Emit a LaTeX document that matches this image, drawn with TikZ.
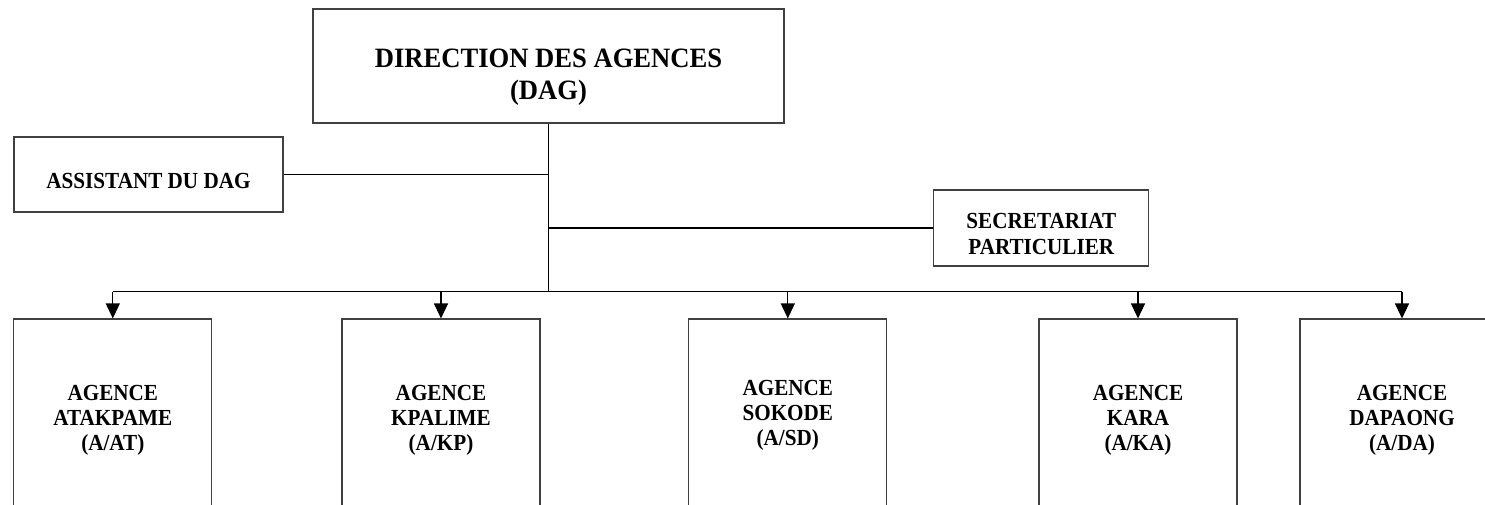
\documentclass[tikz,border=0pt]{standalone}
\usepackage{fontspec}
\newfontfamily\orgfont{Liberation Serif}[FakeStretch=0.92]
\newfontfamily\dagfont{Liberation Serif}[FakeStretch=0.95]
\usetikzlibrary{arrows.meta}
\tikzset{
  box/.style={draw=black!75, line width=1.1pt, rectangle, inner sep=0pt},
  lbl/.style={font=\orgfont\bfseries\fontsize{23}{25}\selectfont, align=center, inner sep=0pt},
  conn/.style={line width=1.1pt, draw=black},
  arr/.style={conn, -{Triangle[length=15pt,width=14pt]}},
}
\begin{document}
\begin{tikzpicture}[x=1pt,y=-1pt]
\useasboundingbox (0,0) rectangle (1485,505);
\clip (0,0) rectangle (1485,505);
% top
\node[box, minimum width=471pt, minimum height=114pt] (dag) at (548.5,66) {};
\node[inner sep=0pt, align=center, font=\dagfont\bfseries\fontsize{28}{32.3}\selectfont] (dagtxt) at (548.5,77) {DIRECTION DES AGENCES\\(DAG)};
% staff
\node[box, minimum width=269pt, minimum height=75pt] (asst) at (148.5,174.5) {};
\node[lbl] (assttxt) at (148.5,181) {ASSISTANT DU DAG};
\node[box, minimum width=215pt, minimum height=76pt] (secr) at (1041.3,228) {};
\node[lbl, font=\orgfont\bfseries\fontsize{23}{25.7}\selectfont] (secrtxt) at (1041.3,234) {SECRETARIAT\\PARTICULIER};
% agencies
\node[box, lbl, minimum width=198pt, minimum height=202pt] (at) at (112.8,420) {AGENCE\\ATAKPAME\\(A/AT)};
\node[box, lbl, minimum width=198pt, minimum height=202pt] (kp) at (441,420) {AGENCE\\KPALIME\\(A/KP)};
\node[box, lbl, minimum width=198pt, minimum height=192pt] (sd) at (787.8,415) {AGENCE\\SOKODE\\(A/SD)};
\node[box, lbl, minimum width=198pt, minimum height=202pt] (ka) at (1138,420) {AGENCE\\KARA\\(A/KA)};
\node[box, lbl, minimum width=204pt, minimum height=202pt] (da) at (1402,420) {AGENCE\\DAPAONG\\(A/DA)};
% extend the cut-off right box past the page edge
\draw[draw=black!75, line width=1.1pt] (da.north east) -- ++(40,0);
% connectors
\path (dag.south) ++(0,168) coordinate (bus);
\draw[conn] (dag.south) -- (bus);
\draw[conn] (asst.east) -- (asst.east -| dag.south);
\draw[conn] (secr.west) -- (secr.west -| dag.south);
\draw[conn] (bus -| at.north) -- (bus -| da.north);
\foreach \n in {at,kp,sd,ka,da}{
  \draw[arr] (bus -| \n.north) -- (\n.north);
}
\end{tikzpicture}
\end{document}
